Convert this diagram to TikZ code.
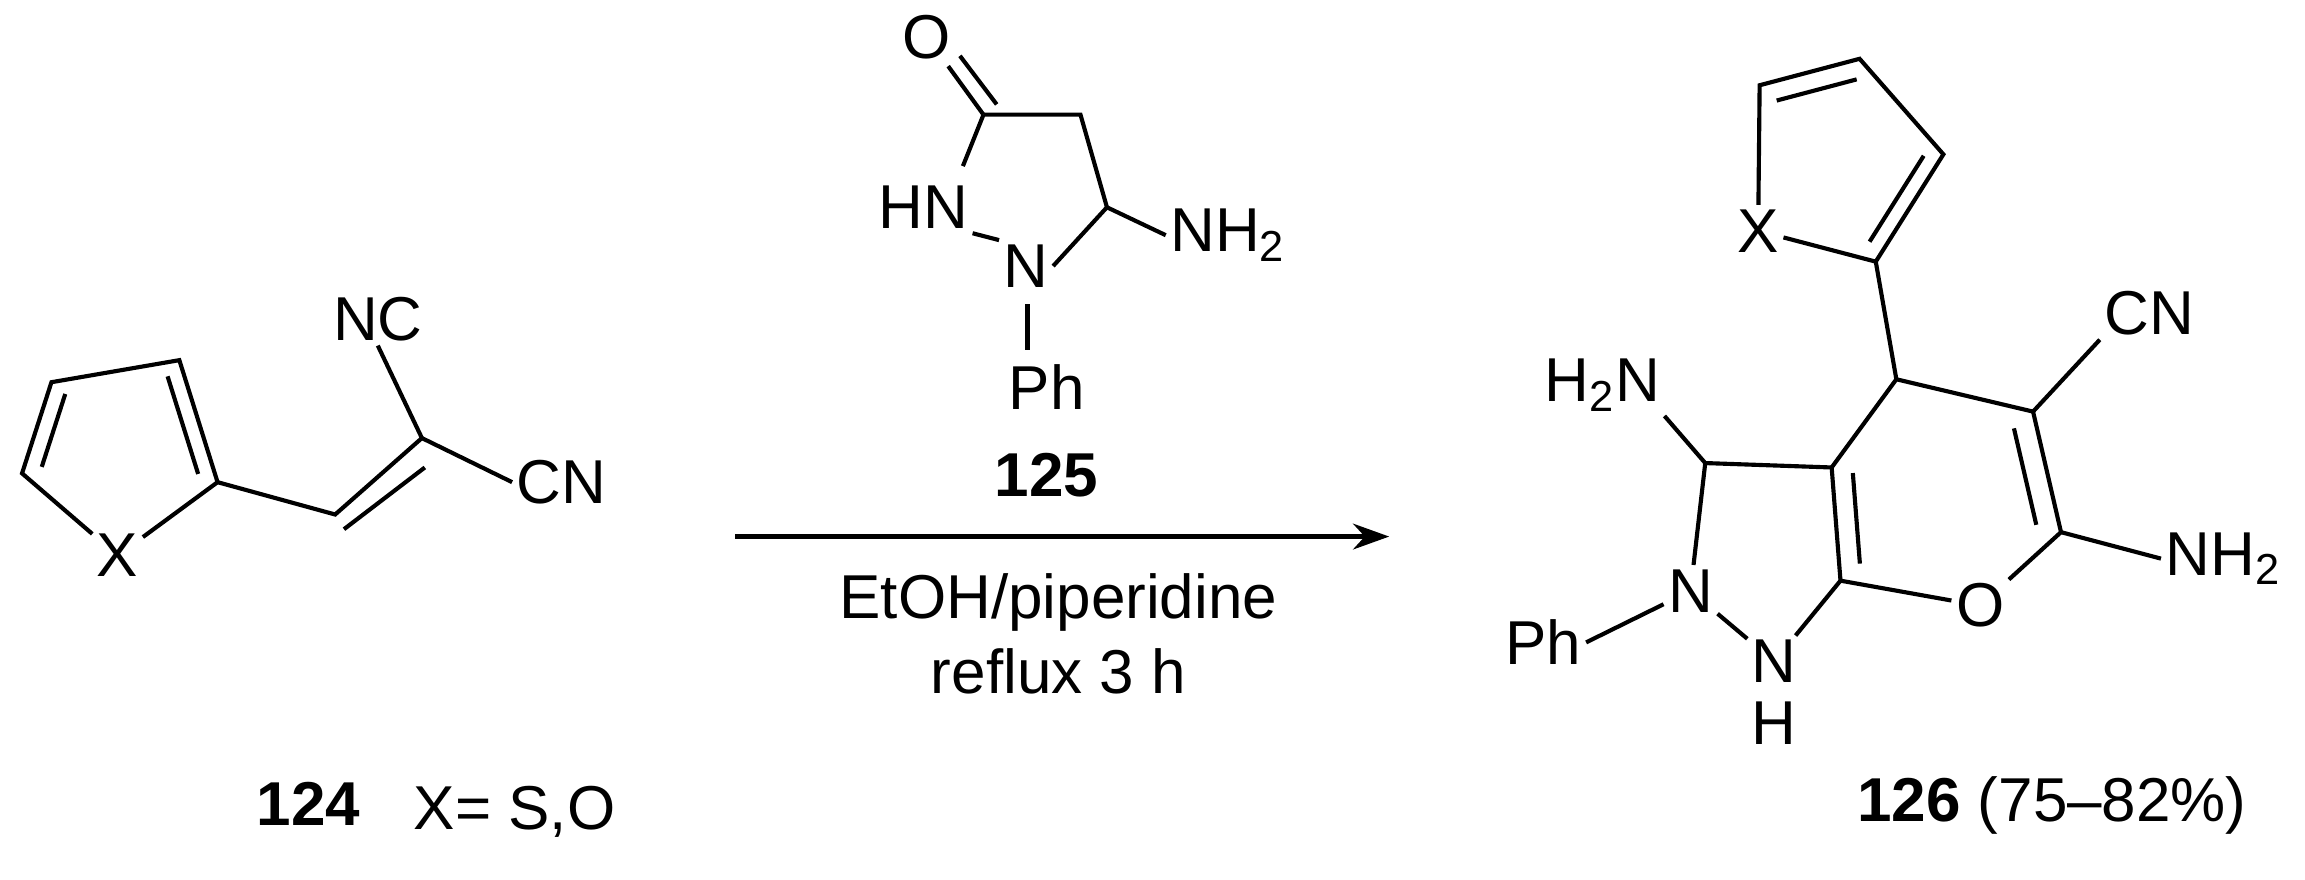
\documentclass[tikz,border=0pt]{standalone}
\usepackage{fontspec}
\setmainfont{Liberation Sans}
\usetikzlibrary{calc,arrows.meta}
\begin{document}
\begin{tikzpicture}[x=0.02cm,y=-0.02cm,line width=1.6pt,
  atom/.style={inner sep=1pt,font=\fontsize{24}{28}\selectfont},
  lbl/.style={inner sep=0pt,font=\fontsize{24}{28}\selectfont}]
\useasboundingbox (0,0) rectangle (1568,598);
% ---------- 124 ----------
\coordinate (a1) at (15,322); \coordinate (a2) at (35,260);
\coordinate (a3) at (122,245); \coordinate (a4) at (148,328);
\node[atom] (ax) at (80,378) {X};
\coordinate (c124) at (82,300);
\coordinate (e1) at (228,350); \coordinate (f1) at (287,298);
\node[atom] (nc1) at (257,217) {NC};
\node[atom] (cn1) at (382,328) {CN};
\draw (ax) -- (a1) -- (a2) -- (a3) -- (a4) -- (ax);
\draw ($(a1)!0.2!(c124)$) -- ($(a2)!0.2!(c124)$);
\draw ($(a3)!0.2!(c124)$) -- ($(a4)!0.2!(c124)$);
\draw (a4) -- (e1) -- (f1);
\draw ($(e1)+(6,10)$) -- ($(f1)+(2,20)$);
\draw (f1) -- (nc1.south); \draw (f1) -- (cn1.west);
\node[lbl,font=\fontsize{24}{28}\selectfont\bfseries] at (210,547) {124};
\node[lbl] at (350,552) {X= S,O};
% ---------- 125 ----------
\node[atom] (o2) at (630,25) {O};
\coordinate (k1) at (669,78); \coordinate (k2) at (735,78);
\coordinate (k3) at (753,141);
\coordinate (o2a) at (645,45); \coordinate (o2b) at (653,38);
\coordinate (k1b) at (678,71);
\node[atom] (hn) at (628,141) {HN};
\node[atom] (n2) at (698,181) {N};
\node[atom,anchor=west] (nh2a) at (793,160) {NH\textsubscript{2}};
\node[atom] (ph2) at (712,263) {Ph};
\coordinate (phb1) at (699,207); \coordinate (phb2) at (699,238);
\coordinate (hnb) at (655,113);
\draw (k1) -- (o2a);
\draw (k1b) -- (o2b);
\draw (k1) -- (k2) -- (k3) -- (nh2a.west);
\draw (k1) -- (hnb);
\draw (k3) -- (n2.east);
\draw (hn.south east) -- (n2.north west);
\draw (phb1) -- (phb2);
\node[lbl,font=\fontsize{24}{28}\selectfont\bfseries] at (712,323) {125};
% arrow
\coordinate (ar1) at (500,365); \coordinate (ar2) at (945,365);
\draw[-{Stealth[length=14pt,width=10pt]}] (ar1) -- (ar2);
\node[lbl] at (720,410) {EtOH/piperidine};
\node[lbl] at (720,457) {reflux 3 h};
% ---------- 126 ----------
\coordinate (u1) at (1197,58); \coordinate (u2) at (1265,40);
\coordinate (u3) at (1322,105); \coordinate (u4) at (1276,178);
\node[atom] (ux) at (1196,157) {X};
\coordinate (c126) at (1255,110);
\draw (ux) -- (u1) -- (u2) -- (u3) -- (u4) -- (ux);
\draw ($(u1)!0.2!(c126)$) -- ($(u2)!0.2!(c126)$);
\draw ($(u3)!0.2!(c126)$) -- ($(u4)!0.2!(c126)$);
\coordinate (c4) at (1290,258); \coordinate (c5) at (1383,280);
\coordinate (c6) at (1402,362); \node[atom] (o6) at (1347,412) {O};
\coordinate (c7a) at (1252,395); \coordinate (c3a) at (1246,318);
\coordinate (c3) at (1160,315);
\node[atom] (n2b) at (1150,402) {N};
\node[atom] (n1b) at (1207,450) {N};
\node[atom] (hb) at (1207,492) {H};
\node[atom] (cn3) at (1462,213) {CN};
\node[atom,anchor=west] (nh2b) at (1470,380) {NH\textsubscript{2}};
\node[atom] (h2n) at (1090,262) {H\textsubscript{2}N};
\node[atom] (ph3) at (1050,437) {Ph};
\coordinate (cp) at (1318,337);
\draw (u4) -- (c4) -- (c5) -- (c6) -- (o6) -- (c7a) -- (c3a) -- (c4);
\draw ($(c5)!0.2!(cp)$) -- ($(c6)!0.2!(cp)$);
\draw ($(c7a)!0.2!(cp)$) -- ($(c3a)!0.2!(cp)$);
\draw (c3a) -- (c3) -- (n2b) -- (n1b) -- (c7a);
\draw (c3) -- (h2n.south east);
\draw (n2b) -- (ph3.east);
\draw (c5) -- (cn3.south west);
\draw (c6) -- (nh2b.west);
\node[lbl,anchor=west] at (1262,548) {\textbf{126} (75–82\%)};
\end{tikzpicture}
\end{document}
